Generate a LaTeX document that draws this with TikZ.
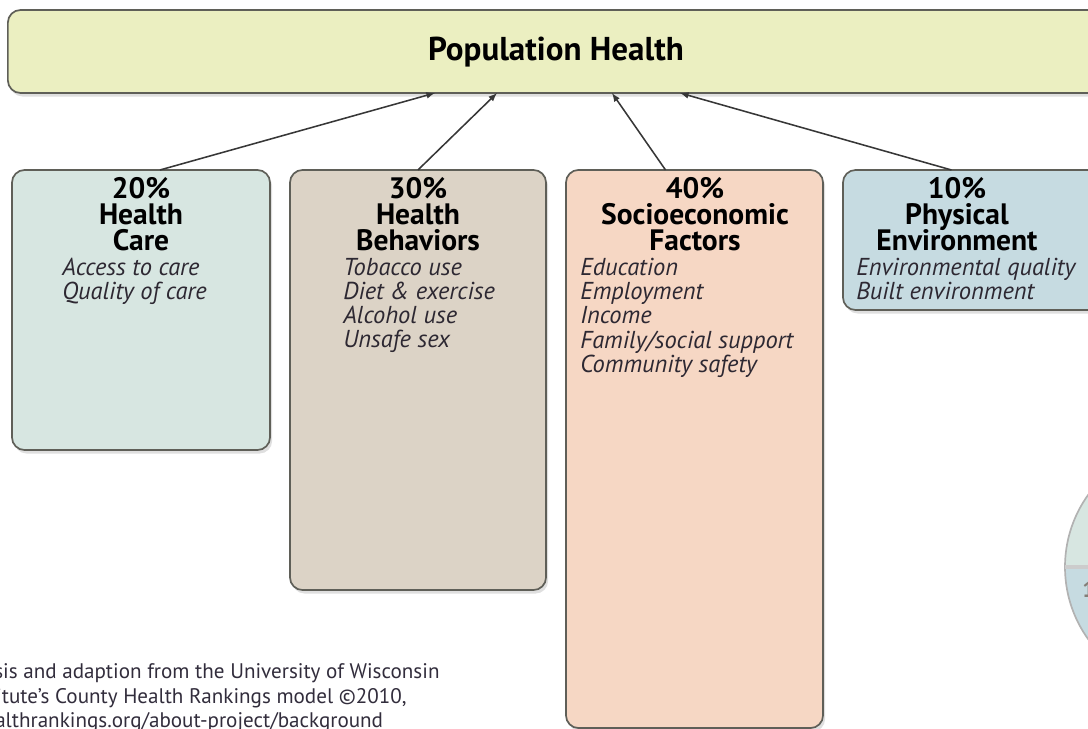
\documentclass[tikz,border=0pt]{standalone}
\usepackage{fontspec}
\setmainfont{PT Sans}
\usepackage{tikz}
\usetikzlibrary{arrows,shapes,calc,shadows}

\definecolor{phfill}{RGB}{235,239,193}
\definecolor{hcfill}{RGB}{215,230,225}
\definecolor{hbfill}{RGB}{220,211,198}
\definecolor{sffill}{RGB}{246,215,196}
\definecolor{pefill}{RGB}{198,219,225}
\definecolor{boxline}{RGB}{95,95,88}
\definecolor{linecol}{RGB}{55,55,55}
\definecolor{itemtext}{RGB}{45,40,50}
\definecolor{notetext}{RGB}{50,45,60}

\newcommand\tightlines{\lineskiplimit=-30pt\relax}

\tikzset{
    box/.style={draw=boxline, line width=1.2pt, rounded corners=9pt, outer sep=0pt,
        drop shadow={shadow xshift=1.5pt, shadow yshift=-2.5pt, opacity=0.25}},
    head/.style={anchor=north, align=center, inner sep=0pt,
        font=\tightlines\fontsize{21}{18.6}\selectfont\bfseries},
    item/.style={anchor=north west, align=left, inner sep=0pt, text=itemtext,
        font=\tightlines\fontsize{17.4}{17.2}\selectfont\itshape},
    note/.style={anchor=west, inner sep=0pt, text=notetext,
        font=\fontsize{15}{15}\selectfont},
    link/.style={draw=linecol, line width=1.1pt, -latex}
}

\begin{document}
\begin{tikzpicture}[x=0.025cm,y=-0.025cm]
    \useasboundingbox (0,0) rectangle (1088,729);
    \clip (0,0) rectangle (1088,729);

    % outcome
    \node[box, fill=phfill, minimum width=27.4cm, minimum height=2.075cm] (ph) at (556,51.5) {};
    \node[font=\fontsize{23.5}{25}\selectfont\bfseries] (pht) at (556,52) {Population Health};

    % the four factors
    \node[box, fill=hcfill, minimum width=6.45cm, minimum height=7cm] (hc) at (141,310) {};
    \node[box, fill=hbfill, minimum width=6.4cm, minimum height=10.5cm] (hb) at (418,380) {};
    \node[box, fill=sffill, minimum width=6.425cm, minimum height=13.95cm] (sf) at (694.5,449) {};
    \node[box, fill=pefill, minimum width=6.425cm, minimum height=3.5cm] (pe) at (971.5,240) {};

    \node[head] (hct) at (141,177) {20\%\\Health\\Care};
    \node[item] (hci) at (62,258) {Access to care\\Quality of care};
    \node[head] (hbt) at (418,177) {30\%\\Health\\Behaviors};
    \node[item] (hbi) at (343,258) {Tobacco use\\Diet \& exercise\\Alcohol use\\Unsafe sex};
    \node[head] (sft) at (695,177) {40\%\\Socioeconomic\\Factors};
    \node[item] (sfi) at (580,258) {Education\\Employment\\Income\\Family/social support\\Community safety};
    \node[head] (pet) at (957,177) {10\%\\Physical\\Environment};
    \node[item] (pei) at (856,258) {Environmental quality\\Built environment};

    \draw[link] ([xshift=0.475cm]hc.north) -- ([xshift=-3.025cm]ph.south);
    \draw[link] (hb.north) -- ([xshift=-1.475cm]ph.south);
    \draw[link] ([xshift=-0.725cm]sf.north) -- ([xshift=1.4cm]ph.south);
    \draw[link] ([xshift=-0.5cm]pe.north) -- ([xshift=3.1cm]ph.south);

    % pie at the right edge
    \fill[pefill] (1189,567) -- (1065,567) arc (180:0:124) -- cycle;
    \fill[hcfill] (1189,567) -- (1065,567) arc (180:360:124) -- cycle;
    \draw[gray!60, line width=1.2pt] (1189,567) circle (124);
    \draw[gray!40, line width=2.5pt] (1065,567) -- (1313,567);
    \node[anchor=west, inner sep=0pt, text=hbfill!60!black,
        font=\fontsize{16}{18}\selectfont\bfseries] (pct) at (1082,590) {10\%};

    % source note
    \node[note] (n1) at (-6,673) {sis and adaption from the University of Wisconsin};
    \node[note] (n2) at (-4,698) {itute's County Health Rankings model ©2010,};
    \node[note] (n3) at (-5,722) {althrankings.org/about-project/background};
\end{tikzpicture}
\end{document}
